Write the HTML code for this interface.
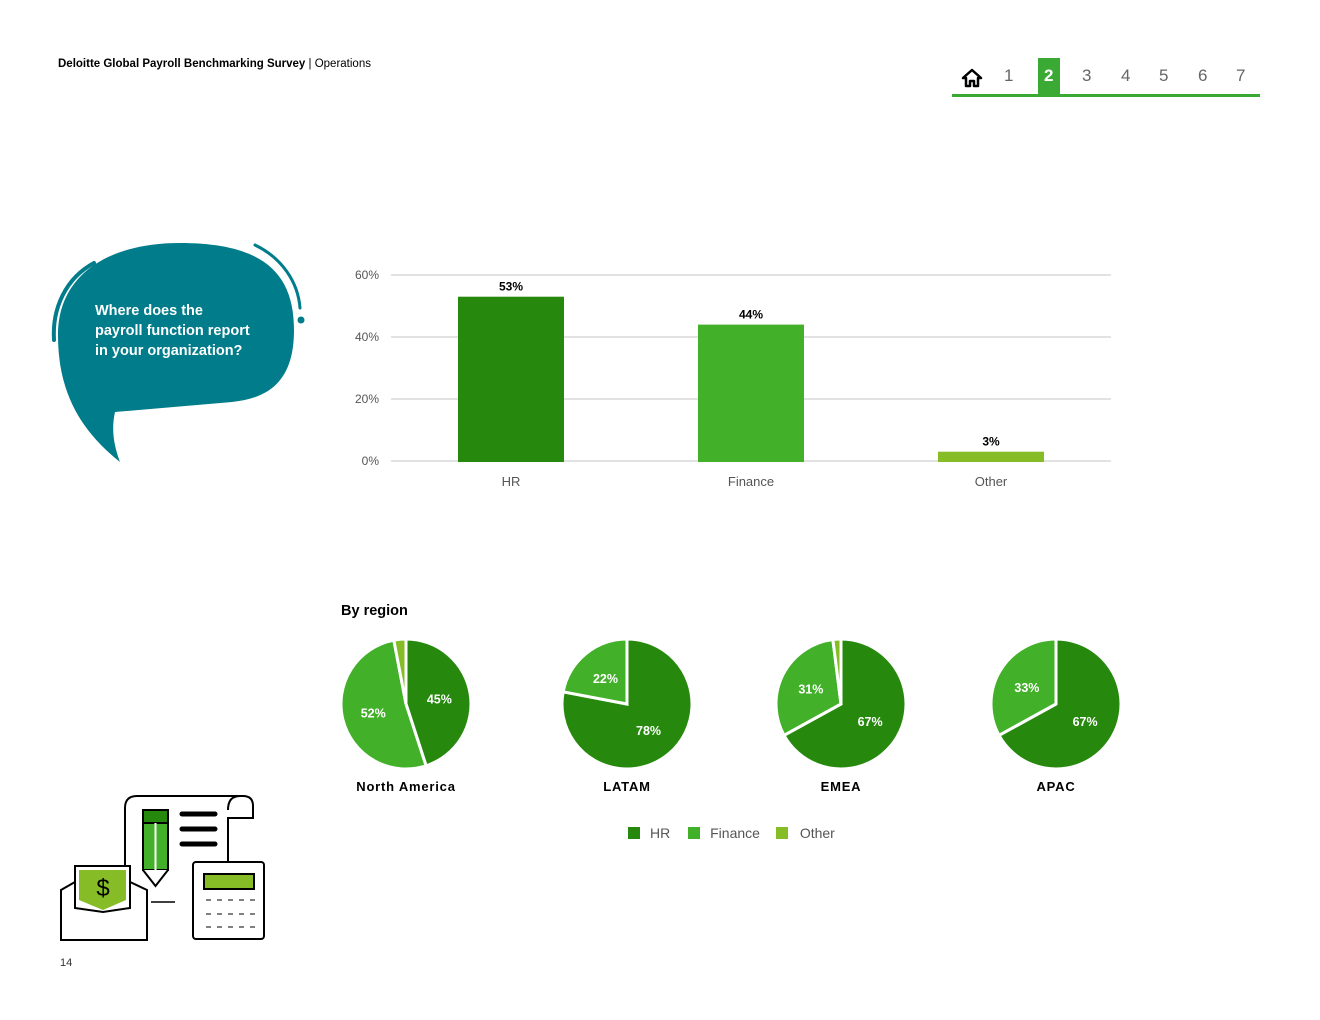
<!DOCTYPE html>
<html><head><meta charset="utf-8"><style>
body{margin:0;background:#fff;}
#page{position:relative;width:1320px;height:1020px;overflow:hidden;font-family:"Liberation Sans",sans-serif;}
.abs{position:absolute;}
</style></head><body>
<div id="page">
<div class="abs" style="left:58px;top:58px;font-size:11.5px;color:#000"><b>Deloitte Global Payroll Benchmarking Survey</b> | Operations</div>
<div class="abs" style="left:952px;top:58px;width:308px;height:40px">
 <svg class="abs" style="left:9px;top:10px" width="22" height="20"><path d="M11 2 L2 10 L5 10 L5 18 L9 18 L9 13 L13 13 L13 18 L17 18 L17 10 L20 10 Z" fill="none" stroke="#000" stroke-width="2.5" stroke-linejoin="round"/></svg>
 <div class="abs" style="left:86px;top:0;width:22px;height:37px;background:#3aaa35"></div>
 <div class="abs" style="left:0;top:36px;width:308px;height:3px;background:#3aaa35"></div>
 <div class="abs" style="left:52px;top:8px;font-size:17px;color:#666">1</div>
 <div class="abs" style="left:92px;top:8px;font-size:17px;color:#fff;font-weight:bold">2</div>
 <div class="abs" style="left:130px;top:8px;font-size:17px;color:#666">3</div>
 <div class="abs" style="left:169px;top:8px;font-size:17px;color:#666">4</div>
 <div class="abs" style="left:207px;top:8px;font-size:17px;color:#666">5</div>
 <div class="abs" style="left:246px;top:8px;font-size:17px;color:#666">6</div>
 <div class="abs" style="left:284px;top:8px;font-size:17px;color:#666">7</div>
</div>

<svg class="abs" style="left:0;top:0" width="320" height="480">
 <path d="M180 243 C262 243 294 272 294 330 C294 378 272 398 232 402 L115 412 C111 430 114 446 120 462 C80 430 58 392 58 335 C58 275 108 243 180 243 Z" fill="#007c8a"/>
 <path d="M94 263 C66 278 52 308 54 340" fill="none" stroke="#007c8a" stroke-width="4" stroke-linecap="round"/>
 <path d="M255 245 C282 258 298 282 300 308" fill="none" stroke="#007c8a" stroke-width="3" stroke-linecap="round"/>
 <circle cx="301" cy="320" r="3.5" fill="#007c8a"/>
 <text x="95" y="315" fill="#fff" font-size="14.5" font-weight="bold" font-family="Liberation Sans,sans-serif"><tspan x="95">Where does the</tspan><tspan x="95" dy="20">payroll function report</tspan><tspan x="95" dy="20">in your organization?</tspan></text>
</svg>

<svg id="bar" class="abs" style="left:0;top:0" width="1320" height="520"></svg>

<div class="abs" style="left:341px;top:603px;font-size:14.5px;font-weight:bold">By region</div>
<svg id="pies" class="abs" style="left:0;top:0" width="1320" height="860"></svg>

<div class="abs" style="left:628px;top:825px;font-size:14px;color:#555;white-space:nowrap">
 <span><span style="display:inline-block;width:12px;height:12px;background:#26890d;margin-right:10px;vertical-align:-1px"></span>HR</span>
 <span style="margin-left:14px"><span style="display:inline-block;width:12px;height:12px;background:#43b02a;margin-right:10px;vertical-align:-1px"></span>Finance</span>
 <span style="margin-left:12px"><span style="display:inline-block;width:12px;height:12px;background:#86bc25;margin-right:12px;vertical-align:-1px"></span>Other</span>
</div>

<svg class="abs" style="left:55px;top:790px" width="220" height="160">
 <path d="M70 75 L70 18 Q70 6 82 6 L188 6 Q198 6 198 16 L198 28 L173 28 L173 100" fill="#fff" stroke="#000" stroke-width="2"/>
 <path d="M173 20 Q173 6 185 6" fill="none" stroke="#000" stroke-width="2"/>
 <rect x="88" y="20" width="25" height="60" fill="#43b02a" stroke="#000" stroke-width="2"/>
 <rect x="88" y="20" width="25" height="13" fill="#26890d" stroke="#000" stroke-width="2"/>
 <line x1="100.5" y1="33" x2="100.5" y2="80" stroke="#fff" stroke-width="2"/>
 <path d="M88 80 L100.5 96 L113 80" fill="#fff" stroke="#000" stroke-width="2"/>
 <line x1="127" y1="24" x2="160" y2="24" stroke="#000" stroke-width="5" stroke-linecap="round"/>
 <line x1="127" y1="39" x2="160" y2="39" stroke="#000" stroke-width="5" stroke-linecap="round"/>
 <line x1="127" y1="54" x2="160" y2="54" stroke="#000" stroke-width="5" stroke-linecap="round"/>
 <line x1="96" y1="112" x2="120" y2="112" stroke="#000" stroke-width="1.5"/>
 <rect x="138" y="72" width="71" height="77" rx="3" fill="#fff" stroke="#000" stroke-width="2"/>
 <rect x="149" y="84" width="50" height="15" fill="#86bc25" stroke="#000" stroke-width="2"/>
 <g stroke="#000" stroke-width="1" stroke-dasharray="5 6"><line x1="151" y1="110" x2="200" y2="110"/><line x1="151" y1="124" x2="200" y2="124"/><line x1="151" y1="137" x2="200" y2="137"/></g>
 <rect x="20" y="76" width="55" height="50" fill="#fff" stroke="#000" stroke-width="2"/>
 <path d="M24 80 L71 80 L71 110 L48 120 L24 110 Z" fill="#86bc25"/>
 <text x="48" y="106" text-anchor="middle" font-size="24" font-family="Liberation Sans,sans-serif" fill="#000">$</text>
 <path d="M6 150 L6 100 L20 92 L20 118 L48 122 L75 118 L75 92 L92 100 L92 150 Z" fill="#fff" stroke="#000" stroke-width="2"/>
</svg>
<div class="abs" style="left:60px;top:957px;font-size:11px;color:#333">14</div>
</div>
<script>
const barCategories=["HR","Finance","Other"];
const barValues=[53,44,3];
const barTicks=[0,20,40,60];
const barColors=["#26890d","#43b02a","#86bc25"];
const NS="http://www.w3.org/2000/svg";
function mk(p,t,a){const e=document.createElementNS(NS,t);for(const k in a)e.setAttribute(k,a[k]);p.appendChild(e);return e;}
const bar=document.getElementById('bar');
const y=v=>461-v*(186/60);
const x=i=>511+i*240;
barTicks.forEach(t=>{
 const l=mk(bar,'line',{x1:391,x2:1111,y1:y(t),y2:y(t),stroke:'#d9d9d9','stroke-width':1.5});
 
 
 const tx=mk(bar,'text',{x:379,y:y(t)+4,'text-anchor':'end','font-size':12,fill:'#555','font-family':'Liberation Sans,sans-serif'});
 tx.textContent=t+'%';
 
 
});
barValues.forEach((v,i)=>{
 const r=mk(bar,'rect',{x:x(i)-53,width:106,y:y(v),height:y(0)-y(v)+1,fill:barColors[i]});
 
 
 const lb=mk(bar,'text',{x:x(i),y:y(v)-6,'text-anchor':'middle','font-size':12,'font-weight':'bold',fill:'#000','font-family':'Liberation Sans,sans-serif'});
 lb.textContent=v+'%';
 
 
 const c=mk(bar,'text',{x:x(i),y:486,'text-anchor':'middle','font-size':13,fill:'#555','font-family':'Liberation Sans,sans-serif'});
 c.textContent=barCategories[i];
 
 
});
const regions=["North America","LATAM","EMEA","APAC"];
const hrShare=[45,78,67,67];
const financeShare=[52,22,31,33];
const otherShare=[3,0,2,0];
const pies=document.getElementById('pies');
const cxs=[406,627,841,1056];
regions.forEach((name,i)=>{
 const cx=cxs[i],cy=704,r=65;
 const vals=[hrShare[i],financeShare[i],otherShare[i]];
 const tot=vals.reduce((a,b)=>a+b,0);
 let a0=0;
 vals.forEach((v,j)=>{
  if(!v)return;
  const a1=a0+v/tot*2*Math.PI;
  const p=(a)=>[cx+r*Math.sin(a),cy-r*Math.cos(a)];
  const [x0,y0]=p(a0),[x1,y1]=p(a1);
  const path=mk(pies,'path',{d:`M${cx} ${cy} L${x0} ${y0} A${r} ${r} 0 ${a1-a0>Math.PI?1:0} 1 ${x1} ${y1} Z`,fill:barColors[j],stroke:'#fff','stroke-width':3,'stroke-linejoin':'miter'});
  
  
  if(v>=10){
   const m=(a0+a1)/2;
   const t=mk(pies,'text',{x:cx+r*0.52*Math.sin(m),y:cy-r*0.52*Math.cos(m)+5,'text-anchor':'middle','font-size':12.5,'font-weight':'bold',fill:'#fff','font-family':'Liberation Sans,sans-serif'});
   t.textContent=v+'%';
   
   
  }
  a0=a1;
 });
 const lb=mk(pies,'text',{x:cx,y:791,'text-anchor':'middle','font-size':13,'font-weight':'bold',fill:'#000','letter-spacing':'0.8','font-family':'Liberation Sans,sans-serif'});
 lb.textContent=name;
 
 
});
</script>
</body></html>
